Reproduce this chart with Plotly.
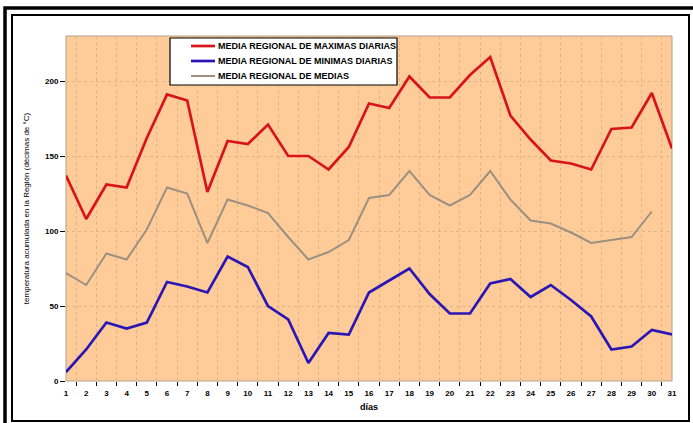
import plotly.graph_objects as go

days = [str(d) for d in range(1, 32)]
max_vals = [137, 108, 131, 129, 162, 191, 187, 126, 160, 158, 171, 150, 150, 141, 156,
            185, 182, 203, 189, 189, 204, 216, 177, 161, 147, 145, 141, 168, 169, 192, 155]
min_vals = [6, 21, 39, 35, 39, 66, 63, 59, 83, 76, 50, 41, 12, 32, 31,
            59, 67, 75, 58, 45, 45, 65, 68, 56, 64, 54, 43, 21, 23, 34, 31]
mean_vals = [72, 64, 85, 81, 101, 129, 125, 92, 121, 117, 112, 96, 81, 86, 94,
             122, 124, 140, 124, 117, 124, 140, 121, 107, 105, 99, 92, 94, 96, 113, None]
names = ["MEDIA REGIONAL DE MAXIMAS DIARIAS", "MEDIA REGIONAL DE MINIMAS DIARIAS",
         "MEDIA REGIONAL DE MEDIAS"]
colors = ["#D8141A", "#2A16B4", "#9C9080"]
widths = [2.7, 2.7, 2]
series = [max_vals, min_vals, mean_vals]
y_ticks = [0, 50, 100, 150, 200]

fig = go.Figure()
for n, v, c, w in zip(names, series, colors, widths):
    fig.add_trace(go.Scatter(x=days, y=v, mode="lines", name=n,
                             line=dict(color=c, width=w), showlegend=False))

L, R, T, B = 66, 21, 36, 42
W, H = 693, 423
pw, ph = W - L - R, H - T - B

def px(x):
    return (x - L) / pw

def py(y):
    return (H - B - y) / ph

shapes = [
    dict(type="rect", xref="paper", yref="paper", x0=px(5), x1=px(700), y0=py(8), y1=py(440),
         line=dict(color="black", width=3.5), fillcolor="rgba(0,0,0,0)", layer="above"),
    dict(type="rect", xref="paper", yref="paper", x0=px(12), x1=px(689), y0=py(15), y1=py(421),
         line=dict(color="black", width=2), fillcolor="rgba(0,0,0,0)", layer="above"),
    dict(type="rect", xref="paper", yref="paper", x0=0, x1=1, y0=0, y1=1,
         line=dict(color="#B0A090", width=1), fillcolor="rgba(0,0,0,0)", layer="below"),
    # legend box
    dict(type="rect", xref="paper", yref="paper", x0=px(170), x1=px(397), y0=py(38), y1=py(85),
         line=dict(color="black", width=1.2), fillcolor="white", layer="above"),
]
annotations = []
row_y = [46, 61, 76]
for n, c, w, ry in zip(names, colors, widths, row_y):
    shapes.append(dict(type="line", xref="paper", yref="paper", x0=px(191), x1=px(215),
                       y0=py(ry), y1=py(ry), line=dict(color=c, width=w), layer="above"))
    annotations.append(dict(xref="paper", yref="paper", x=px(216), y=py(ry), text=n,
                            showarrow=False, xanchor="left", yanchor="middle",
                            font=dict(family="Liberation Sans", size=9, color="black",
                                      weight="bold")))

bold8 = dict(family="Liberation Sans", size=8, color="black", weight="bold")

fig.update_layout(
    width=W, height=H,
    margin=dict(l=L, r=R, t=T, b=B),
    paper_bgcolor="white",
    plot_bgcolor="#FFCC99",
    font=dict(family="Liberation Sans", size=8, color="black"),
    shapes=shapes,
    annotations=annotations,
    showlegend=False,
    xaxis=dict(type="category", tickson="boundaries", ticks="outside", ticklen=4,
               tickcolor="black", showgrid=True, gridcolor="rgba(215,180,130,0.9)",
               griddash="dot", gridwidth=1, showline=False, zeroline=False,
               ticklabelstandoff=6,
               title=dict(text="días", font=dict(size=9, weight="bold"), standoff=6),
               tickfont=bold8),
    yaxis=dict(range=[0, 230], tickvals=y_ticks, ticks="outside", ticklen=5,
               tickcolor="black", showgrid=True, gridcolor="rgba(215,180,130,0.9)",
               griddash="dot", gridwidth=1, showline=False, zeroline=False,
               title=dict(text="temperatura acumulada en la Región (décimas de °C)",
                          font=dict(size=8), standoff=14),
               tickfont=bold8),
)

fig.write_html("out.html", config={"displayModeBar": False},
               post_script="document.body.style.margin='0';document.body.style.overflow='hidden';")
